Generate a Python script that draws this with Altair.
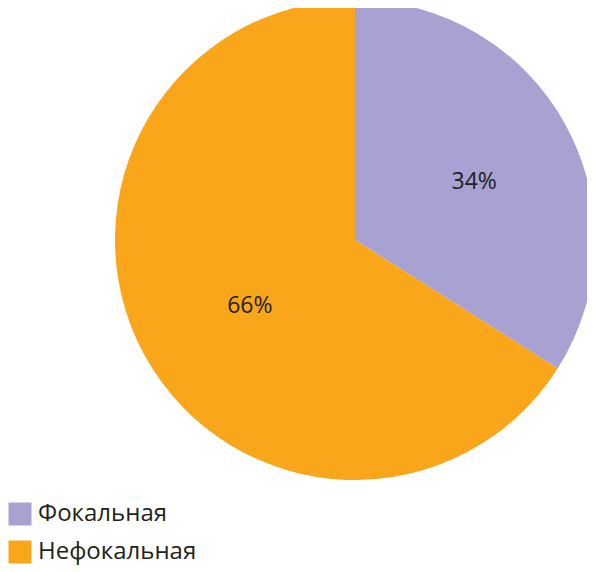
import altair as alt
import pandas as pd

categories = ["Фокальная", "Нефокальная"]
values = [34, 66]
labels = ["34%", "66%"]
colors = ["#A8A2D2", "#F9A61A"]

df = pd.DataFrame({"cat": categories, "val": values, "lab": labels, "ord": [0, 1]})

base = alt.Chart(df).encode(
    theta=alt.Theta("val:Q", stack=True),
    order=alt.Order("ord:Q"),
)

arc = base.mark_arc(outerRadius=240, x=347, y=232).encode(
    color=alt.Color(
        "cat:N",
        scale=alt.Scale(domain=categories, range=colors),
        sort=categories,
        legend=alt.Legend(
            title=None,
            orient="none",
            legendX=0,
            legendY=494,
            symbolType="square",
            symbolSize=529,
            symbolStrokeWidth=0,
            symbolOpacity=1,
            labelFontSize=24,
            labelFont="Open Sans",
            labelColor="#231F20",
            labelOffset=6,
            rowPadding=14,
            labelLimit=400,
        ),
    )
)

text = base.mark_text(
    radius=128, x=347, y=232, dx=7, dy=4, fontSize=23, font="Open Sans", color="#231F20"
).encode(text="lab:N")

chart = (
    alt.layer(arc, text)
    .properties(width=579, height=560, autosize=alt.AutoSizeParams(type="none"), padding=0)
    .configure_view(stroke=None)
)

chart.save("out.html", embed_options={"renderer": "svg", "actions": False})
